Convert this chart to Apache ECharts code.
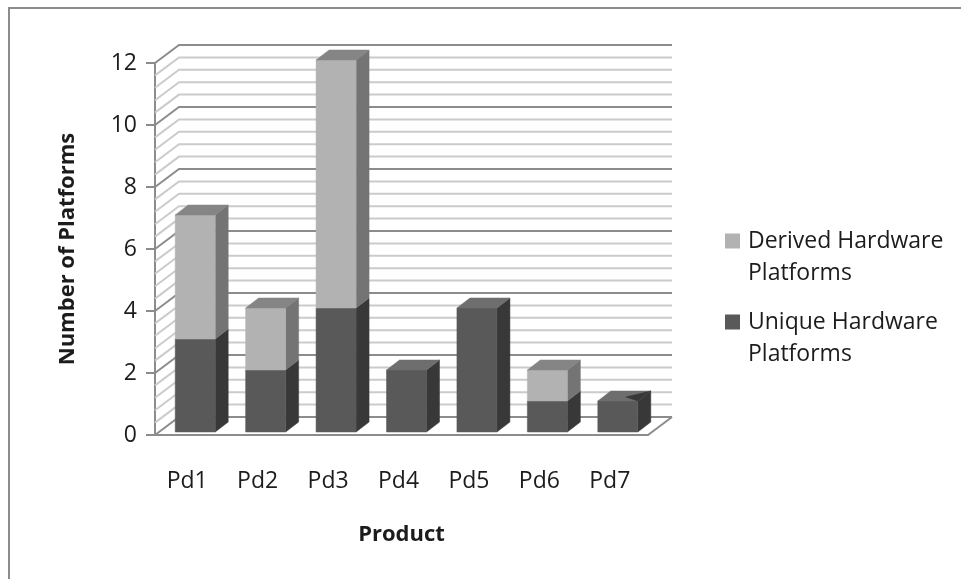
<!DOCTYPE html>
<html>
<head>
<meta charset="utf-8">
<style>html,body{margin:0;padding:0;background:#fff}#c{width:961px;height:579px}</style>
<script src="https://cdn.jsdelivr.net/npm/echarts@6/dist/echarts.min.js"></script>
</head>
<body>
<div id="c"></div>
<script>
const categories = ['Pd1','Pd2','Pd3','Pd4','Pd5','Pd6','Pd7'];
const uniquePlatforms = [3,2,4,2,4,1,1];
const derivedPlatforms = [4,2,8,0,0,1,0];
const gridValues = [0,0.4,0.8,1.2,1.6,2,2.4,2.8,3.2,3.6,4,4.4,4.8,5.2,5.6,6,6.4,6.8,7.2,7.6,8,8.4,8.8,9.2,9.6,10,10.4,10.8,11.2,11.6,12];
const seriesNames = ['Derived Hardware Platforms','Unique Hardware Platforms'];
const legendLabels = {'Derived Hardware Platforms':'\nDerived Hardware\nPlatforms','Unique Hardware Platforms':'\nUnique Hardware\nPlatforms'};

const WALL_DX = 24, WALL_DY = -18;
const HALF = 20, F_DX = 5, F_DY = -3, B_DX = 18, B_DY = -13;
const AXIS = '#8c8c8c', MINOR = '#cbcbcb';
const TEXT = '#1c1c1c', FONT = 'Open Sans', FS = 23;

function poly(points, fill, z) {
  return {type:'polygon', z2:z||0, shape:{points}, style:{fill, stroke:fill, lineWidth:0.5}};
}
function box(x, yBase, yTop, c, withTop) {
  const l = x - HALF + F_DX, r = x + HALF + F_DX, dx = B_DX - F_DX, dy = B_DY - F_DY;
  const b = yBase + F_DY, t = yTop + F_DY;
  const parts = [
    poly([[r,b],[r+dx,b+dy],[r+dx,t+dy],[r,t]], c.side),
    poly([[l,b],[r,b],[r,t],[l,t]], c.front)
  ];
  if (withTop) parts.push(poly([[l,t],[r,t],[r+dx,t+dy],[l+dx,t+dy]], c.top));
  return parts;
}
const DARK = {front:'#595959', side:'#383838', top:'#6e6e6e'};
const LIGHT = {front:'#b2b2b2', side:'#747474', top:'#858585'};

function renderGrid(params, api) {
  const v = api.value(0);
  const cs = params.coordSys;
  const y = api.coord([0, v])[1];
  const major = Math.abs(v % 2) < 1e-6;
  const x0 = cs.x, x1 = cs.x + cs.width;
  return {type:'polyline', shape:{points:[[x0,y],[x0+WALL_DX,y+WALL_DY],[x1+WALL_DX,y+WALL_DY]]},
    style:{fill:'none', stroke: major ? AXIS : MINOR, lineWidth:2}};
}
function renderFloorEdge(params, api) {
  const cs = params.coordSys;
  const y = api.coord([0, 0])[1];
  const x1 = cs.x + cs.width;
  return {type:'polyline', shape:{points:[[x1,y],[x1+WALL_DX,y+WALL_DY]]},
    style:{fill:'none', stroke:AXIS, lineWidth:2}};
}
function renderUnique(params, api) {
  const i = api.value(0), v = api.value(1), d = derivedPlatforms[i];
  const x = api.coord([i,0])[0], yb = api.coord([i,0])[1], yt = api.coord([i,v])[1];
  const parts = box(x, yb, yt, DARK, d === 0);
  if (i === categories.length - 1) {
    const r = x + HALF + F_DX, t = yt + F_DY;
    parts.push(poly([[r-12,t-4],[r+13,t-10],[r,t]], DARK.side));
  }
  return {type:'group', children:parts};
}
function renderDerived(params, api) {
  const i = api.value(0), d = api.value(1), u = uniquePlatforms[i];
  if (!d) return null;
  const x = api.coord([i,0])[0], yb = api.coord([i,u])[1], yt = api.coord([i,u+d])[1];
  return {type:'group', children:box(x, yb, yt, LIGHT, true)};
}

const chart = echarts.init(document.getElementById('c'), null, {renderer:'canvas'});
const legendBase = {
  left:725, padding:0, orient:'vertical', icon:'rect', itemWidth:15, itemHeight:15,
  formatter:n => legendLabels[n],
  textStyle:{fontFamily:FONT, fontSize:FS, color:TEXT, lineHeight:32, padding:[0,0,0,3]}
};
chart.setOption({
  animation:false,
  backgroundColor:'#fff',
  graphic:[{type:'polyline', silent:true, z:-1, shape:{points:[[9,579],[9,8],[961,8]]},
    style:{fill:'none', stroke:'#8c8c8c', lineWidth:2}}],
  legend:[
    Object.assign({}, legendBase, {top:193, data:[seriesNames[0]]}),
    Object.assign({}, legendBase, {top:274, data:[seriesNames[1]]})
  ],
  grid:{left:155, top:63, width:493, height:372, containLabel:false},
  xAxis:{
    type:'category', data:categories,
    axisLine:{show:true, lineStyle:{color:AXIS, width:2}},
    axisTick:{show:false},
    axisLabel:{fontFamily:FONT, fontSize:FS, color:TEXT, margin:35, padding:[0,6,0,0]},
    name:'Product', nameLocation:'middle', nameGap:89,
    nameTextStyle:{fontFamily:FONT, fontSize:FS-1, fontWeight:'bold', color:TEXT}
  },
  yAxis:{
    type:'value', min:0, max:12, interval:2,
    splitLine:{show:false},
    axisLine:{show:true, lineStyle:{color:AXIS, width:2}},
    axisTick:{show:true, length:9, lineStyle:{color:AXIS, width:2}},
    axisLabel:{fontFamily:FONT, fontSize:FS, color:TEXT, margin:18, padding:[4,0,0,0]},
    name:'Number of Platforms', nameLocation:'middle', nameGap:76,
    nameTextStyle:{fontFamily:FONT, fontSize:FS-1, fontWeight:'bold', color:TEXT}
  },
  series:[
    {type:'custom', silent:true, z:1, renderItem:renderGrid, data:gridValues.map(v=>[v]), encode:{y:0}, clip:false},
    {type:'custom', silent:true, z:1, renderItem:renderFloorEdge, data:[[0]], encode:{y:0}, clip:false},
    {type:'custom', name:seriesNames[1], z:2, renderItem:renderUnique, itemStyle:{color:'#595959'},
      data:uniquePlatforms.map((v,i)=>[i,v]), encode:{x:0,y:1}, clip:false},
    {type:'custom', name:seriesNames[0], z:3, renderItem:renderDerived, itemStyle:{color:'#b2b2b2'},
      data:derivedPlatforms.map((v,i)=>[i,v]), encode:{x:0,y:1}, clip:false}
  ]
});
</script>
</body>
</html>
